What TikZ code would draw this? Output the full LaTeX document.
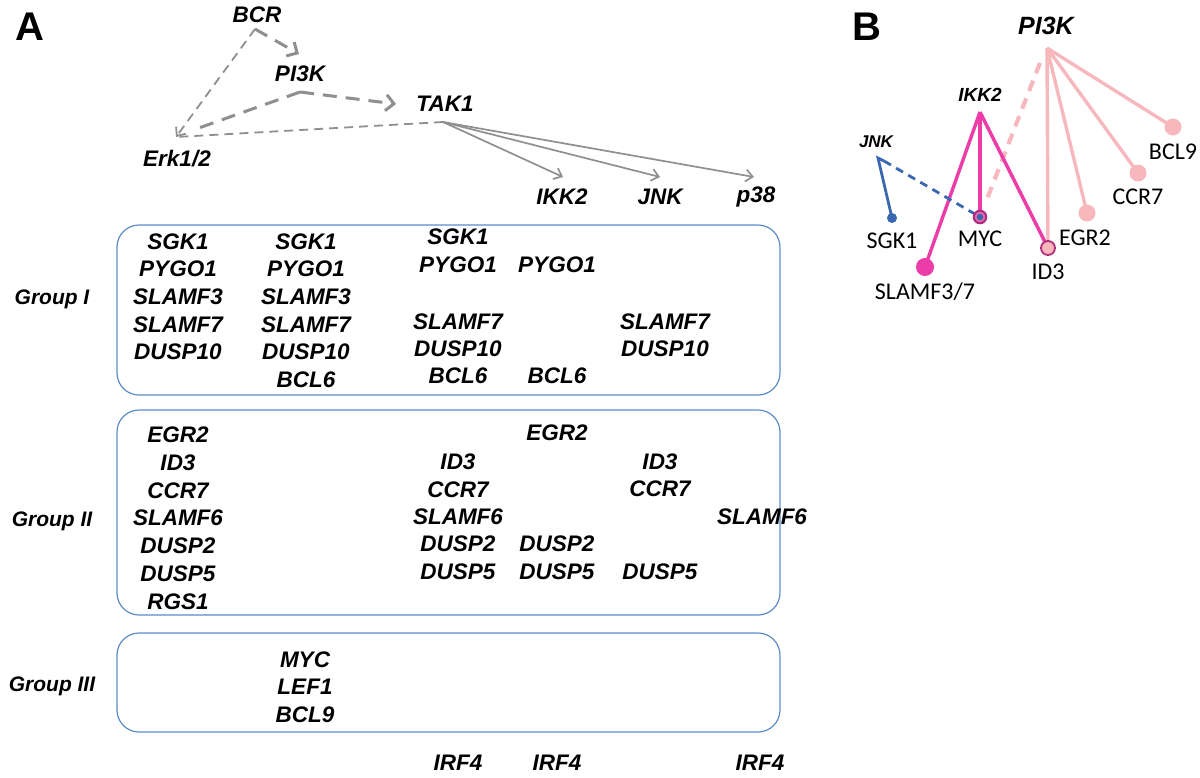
\documentclass[tikz,border=0pt]{standalone}
\usepackage{fontspec}
\setmainfont{Liberation Sans}
\newfontfamily\calib{Carlito}
\usetikzlibrary{arrows.meta}
\definecolor{gr}{HTML}{8F8F8F}
\definecolor{boxb}{HTML}{5B8CC8}
\definecolor{jblue}{HTML}{3A68B0}
\definecolor{mag}{HTML}{EC3CA8}
\definecolor{magd}{HTML}{B02E7E}
\definecolor{lpink}{HTML}{F6B8BC}
\begin{document}
\begin{tikzpicture}[x=1pt,y=-1pt,
  gene/.style={font=\fontsize{22.5}{22.5}\selectfont\bfseries\itshape, inner sep=0pt},
  grp/.style={font=\fontsize{21}{21}\selectfont\bfseries\itshape, inner sep=0pt},
  panel/.style={font=\fontsize{40}{40}\selectfont\bfseries, inner sep=0pt},
  blab/.style={font=\calib\fontsize{24}{24}\selectfont, inner sep=0pt},
  grpbox/.style={draw=boxb, line width=1.2pt, rounded corners=22pt},
  thin dash/.style={draw=gr, line width=1.8pt, dash pattern=on 9pt off 6pt},
  thick dash/.style={draw=gr, line width=3pt, dash pattern=on 14pt off 9pt},
  garrow/.style={-{Straight Barb[length=7pt,width=12pt]}},
  garrowb/.style={-{Straight Barb[length=8pt,width=16pt]}},
  solidg/.style={draw=gr, line width=1.7pt},
  pinkl/.style={draw=lpink, line width=3.4pt},
  magl/.style={draw=mag, line width=3.4pt},
  bluel/.style={draw=jblue, line width=2.8pt}
]
\useasboundingbox (0,0) rectangle (1200,777);

% ---------- Panel A ----------
\node[panel] (pA) at (30,27) {A};

\node[gene] (bcr) at (257,15) {BCR};
\node[gene] (pi3k) at (300,74) {PI3K};
\node[gene] (tak1) at (445,104) {TAK1};
\node[gene] (erk) at (177,159) {Erk1/2};
\node[gene] (ikk2) at (562,197) {IKK2};
\node[gene] (jnk) at (660,197) {JNK};
\node[gene] (p38) at (756,197) {p38};

\coordinate (bcrp) at (255,29);
\coordinate (pip) at (300,92);
\coordinate (takp) at (443,122);
\coordinate (erkp) at (176,137);
\coordinate (erkq) at (196,129);
\coordinate (pi3kin) at (299,54);
\coordinate (takin) at (396,104);
\coordinate (ikkin) at (563,177);
\coordinate (jnkin) at (660,177);
\coordinate (p38in) at (754,177);

\draw[thin dash, garrow] (bcrp) -- (erkp);
\draw[thick dash, garrowb] (bcrp) -- (pi3kin);
\draw[thick dash, garrowb] (pip) -- (takin);
\draw[thick dash] (pip) -- (erkq);
\draw[thin dash] (takp) -- (erkp);
\draw[solidg, garrow] (takp) -- (ikkin);
\draw[solidg, garrow] (takp) -- (jnkin);
\draw[solidg, garrow] (takp) -- (p38in);

% group boxes
\draw[grpbox] (117,225) rectangle (780,395);
\draw[grpbox] (117,410) rectangle (780,615);
\draw[grpbox] (117,633) rectangle (780,732);
\node[grp] (gI) at (52,299) {Group I};
\node[grp] (gII) at (52,521) {Group II};
\node[grp] (gIII) at (52,686) {Group III};

% Group I
\foreach \t [count=\i] in {SGK1,PYGO1,SLAMF3,SLAMF7,DUSP10}
  \node[gene] (a1\i) at (178,{214+27.6*\i}) {\t};
\foreach \t [count=\i] in {SGK1,PYGO1,SLAMF3,SLAMF7,DUSP10,BCL6}
  \node[gene] (a2\i) at (306,{214+27.6*\i}) {\t};
\node[gene] (a31) at (458,237) {SGK1};
\node[gene] (a32) at (458,265) {PYGO1};
\node[gene] (a34) at (458,322) {SLAMF7};
\node[gene] (a35) at (458,349) {DUSP10};
\node[gene] (a36) at (458,376) {BCL6};
\node[gene] (a42) at (557,265) {PYGO1};
\node[gene] (a46) at (557,376) {BCL6};
\node[gene] (a54) at (665,322) {SLAMF7};
\node[gene] (a55) at (665,349) {DUSP10};

% Group II
\foreach \t [count=\i] in {EGR2,ID3,CCR7,SLAMF6,DUSP2,DUSP5,RGS1}
  \node[gene] (b1\i) at (178,{407+27.8*\i}) {\t};
\node[gene] (b32) at (458,462) {ID3};
\node[gene] (b33) at (458,490) {CCR7};
\node[gene] (b34) at (458,517) {SLAMF6};
\node[gene] (b35) at (458,544) {DUSP2};
\node[gene] (b36) at (458,572) {DUSP5};
\node[gene] (b41) at (557,433) {EGR2};
\node[gene] (b45) at (557,544) {DUSP2};
\node[gene] (b46) at (557,572) {DUSP5};
\node[gene] (b52) at (660,462) {ID3};
\node[gene] (b53) at (660,489) {CCR7};
\node[gene] (b56) at (660,572) {DUSP5};
\node[gene] (b64) at (762,517) {SLAMF6};

% Group III
\node[gene] (c1) at (305,660) {MYC};
\node[gene] (c2) at (305,687) {LEF1};
\node[gene] (c3) at (305,715) {BCL9};

% IRF4
\node[gene] (irf1) at (458,763) {IRF4};
\node[gene] (irf2) at (557,763) {IRF4};
\node[gene] (irf3) at (760,763) {IRF4};

% ---------- Panel B ----------
\node[panel] (pB) at (867,27) {B};
\node[font=\fontsize{25}{25}\selectfont\bfseries\itshape, inner sep=0pt] (bpi3k) at (1046,26) {PI3K};
\node[font=\fontsize{19}{19}\selectfont\bfseries\itshape, inner sep=0pt] (bikk2) at (980,95) {IKK2};
\node[font=\fontsize{17}{17}\selectfont\bfseries\itshape, inner sep=0pt] (bjnk) at (876,142) {JNK};

\coordinate (hp) at (1047,48);
\coordinate (hi) at (980,112);
\coordinate (hj) at (878,158);
\coordinate (hjt) at (884,161);
\coordinate (pdash) at (1040,63);
\coordinate (mdash) at (987,199);

\coordinate (dsgk) at (892,218);
\coordinate (dmyc) at (980,217);
\coordinate (dslam) at (925,267);
\coordinate (did3) at (1048,248);
\coordinate (degr) at (1087,213);
\coordinate (dccr) at (1138,173);
\coordinate (dbcl) at (1173,127);

\draw[pinkl] (hp) -- (did3);
\draw[pinkl] (hp) -- (degr);
\draw[pinkl] (hp) -- (dccr);
\draw[pinkl] (hp) -- (dbcl);
\draw[draw=lpink, line width=4.2pt, dash pattern=on 11pt off 8pt] (pdash) -- (mdash);
\draw[magl] (hi) -- (dslam);
\draw[magl] (hi) -- (dmyc);
\draw[magl] (hi) -- (did3);
\draw[bluel] (hjt) -- (hj) -- (dsgk);
\draw[bluel, dash pattern=on 8pt off 6pt] (hjt) -- (dmyc);

\fill[jblue] (dsgk) circle (5);
\fill[mag] (dslam) circle (9);
\fill[lpink] (degr) circle (8.5);
\fill[lpink] (dccr) circle (8.5);
\fill[lpink] (dbcl) circle (8.5);
\draw[magd, line width=1.8pt, fill=lpink] (did3) circle (7);
\draw[magd, line width=2.2pt, fill=mag!60!lpink] (dmyc) circle (6.2);
\fill[jblue] (dmyc) circle (3.4);

\node[blab] (lsgk) at (892,241) {SGK1};
\node[blab] (lmyc) at (980,239) {MYC};
\node[blab] (lslam) at (925,292) {SLAMF3/7};
\node[blab] (lid3) at (1048,272) {ID3};
\node[blab] (legr) at (1085,238) {EGR2};
\node[blab] (lccr) at (1138,197) {CCR7};
\node[blab] (lbcl) at (1173,152) {BCL9};
\end{tikzpicture}
\end{document}
